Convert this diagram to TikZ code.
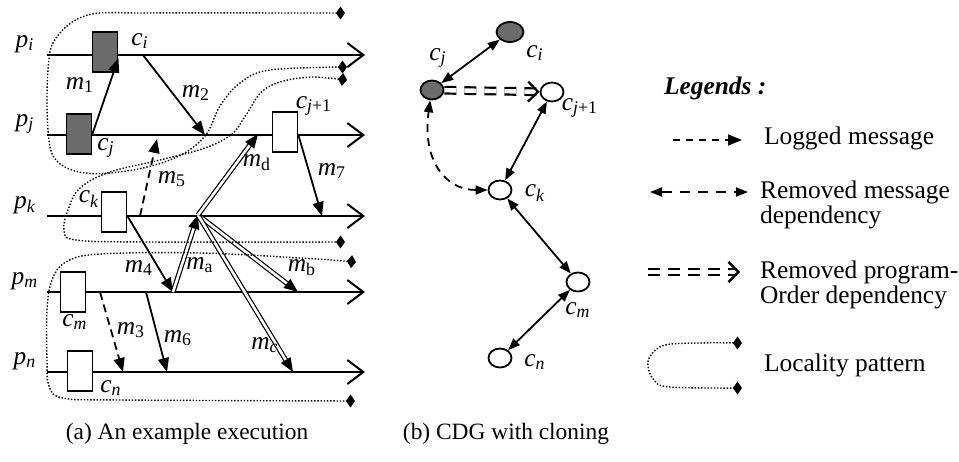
\documentclass[tikz,border=0pt]{standalone}
\usepackage{fontspec}
\setmainfont{Liberation Serif}
\usetikzlibrary{arrows.meta,shapes.geometric}
\newcommand{\plab}[2]{\textit{#1}\textsubscript{#2}}

\begin{document}
\begin{tikzpicture}[x=0.5pt,y=-0.5pt,
  font=\fontsize{12.7}{12.5}\selectfont,
  proc/.style={line width=1pt,-{Straight Barb[length=8pt,width=12pt]}},
  msg/.style={line width=0.9pt,-{Triangle[length=7pt,width=5.5pt]}},
  logged/.style={msg,dash pattern=on 4pt off 2.5pt},
  dbl/.style={double,line width=0.6pt,double distance=1.3pt,-{Triangle[length=7pt,width=5.5pt]}},
  ckpt/.style={draw,line width=0.9pt,fill=white,minimum width=12.5pt,minimum height=20pt,inner sep=0pt},
  shaded/.style={fill=black!58},
  lbl/.style={inner sep=0pt},
  loc/.style={line width=0.7pt,dash pattern=on 0.7pt off 0.9pt,{Turned Square[length=4.5pt,width=6.5pt]}-{Turned Square[length=4.5pt,width=6.5pt]}},
  cdg/.style={draw,ellipse,line width=0.9pt,fill=white,minimum width=11.5pt,minimum height=9.5pt,inner sep=0pt},
  dep/.style={line width=0.9pt,{Triangle[length=6pt,width=4.5pt]}-{Triangle[length=6pt,width=4.5pt]}},
  prog/.style={double,line width=1.1pt,double distance=2.2pt,dash pattern=on 6pt off 4pt,-{Straight Barb[length=5pt,width=10pt]}}]
\useasboundingbox (0,0) rectangle (959,461);
% processes
\foreach \n/\y in {i/55,j/135,k/216,m/292,n/372}{
  \node[lbl] (p\n) at (25,\y-11) {\plab{p}{\textit{\n}}};
  \coordinate (\n0) at (47,\y);
  \coordinate (\n1) at (365,\y);
  \draw[proc] (\n0) -- (\n1);
}
% checkpoints
\node[ckpt,shaded] (bci) at (105,52) {};
\node[ckpt,shaded] (bcj) at (79,134) {};
\node[ckpt] (bcj1) at (285,132) {};
\node[ckpt] (bck) at (114,212) {};
\node[ckpt] (bcm) at (73,292) {};
\node[ckpt] (bcn) at (80,371) {};
\node[lbl] (lci) at (140,41) {\plab{c}{\textit{i}}};
\node[lbl] (lcj) at (106,148) {\plab{c}{\textit{j}}};
\node[lbl] (lcj1) at (314,106) {\plab{c}{\textit{j}+1}};
\node[lbl] (lck) at (89,199) {\plab{c}{\textit{k}}};
\node[lbl] (lcm) at (75,322) {\plab{c}{\textit{m}}};
\node[lbl] (lcn) at (111,388) {\plab{c}{\textit{n}}};
% message events
\coordinate (s2) at (143,55);  \coordinate (r2) at (205,135);
\coordinate (s5) at (140,216); \coordinate (r5) at (157,139);
\coordinate (r7) at (322,216);
\coordinate (ka) at (198,215);
\coordinate (ma) at (173,292);
\coordinate (rb) at (298,292);
\coordinate (rc) at (293,372);
\coordinate (rd) at (258,134);
\coordinate (s3) at (100,292); \coordinate (r3) at (123,372);
\coordinate (s6) at (146,292); \coordinate (r6) at (167,372);
\draw[msg] (bcj.east) -- (bci.-25);
\draw[msg] (s2) -- (r2);
\draw[logged] (s5) -- (r5);
\draw[msg] (bcj1.east |- j0) -- (r7);
\draw[msg] (bck.east |- k0) -- (ma);
\draw[logged] (s3) -- (r3);
\draw[msg] (s6) -- (r6);
\foreach \a/\b in {ma/ka,ka/rb,ka/rc,ka/rd} \draw[dbl] (\a) -- (\b);
\node[lbl] (lm1) at (80,85) {\plab{m}{1}};
\node[lbl] (lm2) at (196,93) {\plab{m}{2}};
\node[lbl] (lm3) at (131,330) {\plab{m}{3}};
\node[lbl] (lm4) at (139,268) {\plab{m}{4}};
\node[lbl] (lm5) at (172,179) {\plab{m}{5}};
\node[lbl] (lm6) at (178,338) {\plab{m}{6}};
\node[lbl] (lm7) at (332,171) {\plab{m}{7}};
\node[lbl] (lma) at (200,265) {\plab{m}{a}};
\node[lbl] (lmb) at (302,268) {\plab{m}{b}};
\node[lbl] (lmc) at (265,345) {\plab{m}{\textit{c}}};
\node[lbl] (lmd) at (257,163) {\plab{m}{d}};
% locality patterns
\draw[loc] plot[smooth,tension=0.6] coordinates {(345,13) (300,13) (150,13) (88,15) (56,38) (48,70) (48,130) (56,160) (85,173) (133,170) (177,157) (205,136) (220,106) (240,83) (270,70) (347,67)};
\draw[loc] plot[smooth,tension=0.6] coordinates {(347,80) (300,78) (265,89) (246,115) (232,134) (205,148) (160,160) (110,172) (80,188) (68,210) (64,230) (76,240) (150,242) (345,242)};
\draw[loc] plot[smooth,tension=0.6] coordinates {(356,262) (300,258) (200,253) (100,254) (66,262) (52,280) (47,310) (47,360) (49,386) (63,398) (120,400) (355,401)};
% CDG with cloning
\node[cdg,shaded,minimum width=13.5pt,minimum height=10pt] (gci) at (510,32) {};
\node[cdg,shaded] (gcj) at (432,90) {};
\node[cdg] (gcj1) at (552,92) {};
\node[cdg] (gck) at (500,190) {};
\node[cdg] (gcm) at (578,282) {};
\node[cdg] (gcn) at (500,358) {};
\node[lbl] (tci) at (535,53) {\plab{c}{\textit{i}}};
\node[lbl] (tcj) at (438,58) {\plab{c}{\textit{j}}};
\node[lbl] (tcj1) at (580,108) {\plab{c}{\textit{j}+1}};
\node[lbl] (tck) at (535,193) {\plab{c}{\textit{k}}};
\node[lbl] (tcm) at (578,310) {\plab{c}{\textit{m}}};
\node[lbl] (tcn) at (535,362) {\plab{c}{\textit{n}}};
\foreach \a/\b in {gcj/gci,gcj1/gck,gck/gcm,gcm/gcn} \draw[dep] (\a) -- (\b);
\draw[prog] (gcj) -- (gcj1);
\draw[dep,dash pattern=on 4pt off 3pt] (gck.west) .. controls (445,190) and (422,160) .. (gcj.260);
% legends
\node[anchor=west,font=\fontsize{12.7}{12.5}\selectfont\bfseries\itshape] (lgt) at (657,88) {Legends :};
\coordinate (g1a) at (673,140); \coordinate (g1b) at (742,140);
\draw[msg,line width=0.8pt,dash pattern=on 3.5pt off 3pt] (g1a) -- (g1b);
\node[anchor=west] (g1t) at (757,138) {Logged message};
\coordinate (g2a) at (650,192); \coordinate (g2b) at (748,192);
\draw[dep,dash pattern=on 5pt off 4pt] (g2a) -- (g2b);
\node[anchor=west,align=left] (g2t) at (753,204.5) {Removed message\\dependency};
\coordinate (g3a) at (648,272); \coordinate (g3b) at (740,272);
\draw[prog] (g3a) -- (g3b);
\node[anchor=west,align=left] (g3t) at (753,284.5) {Removed program-\\Order dependency};
\draw[loc] plot[smooth,tension=0.6] coordinates {(742,343) (700,343) (665,345) (651,355) (648,366) (654,380) (670,387) (742,388)};
\node[anchor=west] (g4t) at (757,365) {Locality pattern};
% captions
\node[font=\fontsize{11.7}{12}\selectfont] (capa) at (187,434) {(a) An example execution};
\node[font=\fontsize{11.7}{12}\selectfont] (capb) at (506,434) {(b) CDG with cloning};
\end{tikzpicture}
\end{document}
